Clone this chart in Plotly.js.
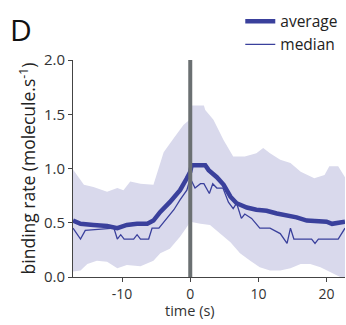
<!DOCTYPE html>
<html><head><meta charset="utf-8">
<script src="https://cdn.plot.ly/plotly-3.0.1.min.js"></script>
<style>html,body{margin:0;padding:0;background:#fff}#chart{width:346px;height:325px}</style>
</head><body><div id="chart"></div>
<script>
const avgT = [-17.2,-16.1,-14.2,-12.2,-10.7,-9.3,-7.8,-6.3,-5.4,-4.4,-3.0,-1.5,-0.5,0,0.2,2.2,2.7,3.9,4.9,5.9,6.8,8.3,9.7,11.2,12.7,14.2,15.6,17.1,18.6,20.0,20.8,22.7];
const avgV = [0.52,0.49,0.48,0.47,0.45,0.48,0.49,0.49,0.52,0.60,0.69,0.80,0.91,0.97,1.03,1.03,0.985,0.92,0.85,0.74,0.68,0.64,0.62,0.61,0.585,0.57,0.55,0.52,0.51,0.51,0.49,0.51];

const medT = [-17.2,-16.1,-15.4,-11.2,-10.7,-10.2,-9.7,-8.3,-7.8,-7.3,-6.1,-5.6,-4.6,-3.4,-2.4,-1.5,-0.5,0,0.7,1.5,2.0,2.8,3.3,3.9,4.8,5.6,6.3,6.8,7.5,8.0,9.0,10.2,11.7,13.2,14.2,14.7,15.2,17.8,18.3,18.8,21.7,22.7];
const medV = [0.45,0.35,0.43,0.45,0.35,0.39,0.35,0.35,0.39,0.35,0.35,0.45,0.45,0.54,0.62,0.71,0.80,0.91,0.82,0.86,0.86,0.77,0.86,0.82,0.82,0.69,0.63,0.68,0.54,0.58,0.54,0.45,0.45,0.40,0.31,0.45,0.35,0.35,0.31,0.35,0.35,0.45];

const upT = [-17.2,-16.1,-15.6,-14.2,-12.2,-10.7,-9.8,-8.8,-7.3,-5.4,-4.9,-3.9,-2.4,-1.0,-0.1,0,2.0,2.2,3.4,4.9,6.3,8.0,9.7,10.7,11.7,13.2,14.7,16.2,18.2,19.7,20.4,21.7,22.7];
const upV = [0.99,0.90,0.85,0.83,0.785,0.82,0.80,0.88,0.86,0.85,0.95,1.15,1.28,1.40,1.45,1.58,1.58,1.54,1.45,1.26,1.11,1.11,1.14,1.19,1.14,1.08,1.05,0.97,0.91,0.94,1.02,1.02,0.92];

const loT = [-17.2,-16.1,-15.1,-13.7,-12.2,-10.7,-9.3,-7.3,-5.4,-4.4,-3.0,-1.5,-0.5,0,1.5,2.9,4.4,5.9,7.3,8.8,10.2,11.7,13.2,14.7,16.2,17.6,19.1,20.5,22.0,22.7];
const loV = [0.05,0.06,0.12,0.15,0.14,0.08,0.11,0.10,0.15,0.22,0.26,0.37,0.46,0.51,0.49,0.48,0.40,0.32,0.22,0.15,0.09,0.06,0.06,0.08,0.12,0.12,0.09,0.05,0.0,0.0];

const eventTime = 0;
const yTicks = [0,0.5,1.0,1.5,2.0];
const yTickText = ['0.0','0.5','1.0','1.5','2.0'];
const xTicks = [-10,0,10,20];
const xTickText = ['-10','0','10','20'];

const font = '"Open Sans", "Noto Sans", sans-serif';
const blue = '#3a409c';

const bandX = upT.concat(loT.slice().reverse());
const bandY = upV.concat(loV.slice().reverse());

const traces = [
  {x: bandX, y: bandY, type:'scatter', mode:'lines', fill:'toself', fillcolor:'#d9d9ec', line:{width:0, color:'rgba(0,0,0,0)'}, showlegend:false, hoverinfo:'skip'},
  {x: medT, y: medV, type:'scatter', mode:'lines', name:'median', line:{color:blue, width:1.3}, showlegend:false},
  {x: avgT, y: avgV, type:'scatter', mode:'lines', name:'average', line:{color:blue, width:4.5}},
  {x: [null], y: [null], type:'scatter', mode:'lines', name:'median', line:{color:blue, width:1.3}}
];

const layout = {
  width:346, height:325,
  margin:{l:73, r:1, t:60, b:48},
  paper_bgcolor:'#fff', plot_bgcolor:'#fff',
  font:{family:font, color:'#333', size:13},
  showlegend:true,
  legend:{x:0.615, xanchor:'left', y:1.255, yanchor:'top', bgcolor:'rgba(0,0,0,0)', font:{size:15.5, color:'#222'}, tracegroupgap:0, itemwidth:30},
  xaxis:{range:[-17.2,22.7], tickvals:xTicks, ticktext:xTickText, ticks:'outside', ticklen:4, tickcolor:'#444', showline:true, linecolor:'#444', linewidth:1, showgrid:false, zeroline:false, tickfont:{size:14, color:'#333'}, fixedrange:true},
  yaxis:{range:[0,2], tickvals:yTicks, ticktext:yTickText, ticks:'outside', ticklen:4, tickcolor:'#444', showline:true, linecolor:'#444', linewidth:1, showgrid:false, zeroline:false, tickfont:{size:15, color:'#333'},
    title:{text:'binding rate (molecule.s<sup>-1</sup>)', font:{size:17.5, color:'#222'}, standoff:3}, fixedrange:true},
  shapes:[{type:'line', xref:'x', yref:'y', x0:eventTime, x1:eventTime, y0:0, y1:2, line:{color:'#6b7072', width:4}}],
  annotations:[
    {text:'time (s)', xref:'x', yref:'paper', x:eventTime, y:0, yshift:-33, yanchor:'middle', showarrow:false, font:{size:14.5, color:'#333'}},
    {text:'D', xref:'paper', yref:'paper', x:-0.24, y:1.245, xanchor:'left', yanchor:'top', showarrow:false, font:{size:30, color:'#111'}}
  ]
};
Plotly.newPlot('chart', traces, layout, {displayModeBar:false, staticPlot:true});
</script></body></html>
